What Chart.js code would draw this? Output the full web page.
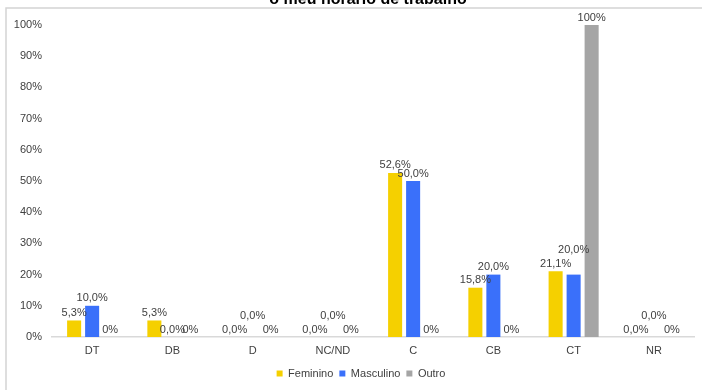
<!DOCTYPE html>
<html lang="pt">
<head>
    <meta charset="UTF-8">
    <title>o meu horário de trabalho</title>
    <style>
        body { margin: 0; background: #fff; }
        canvas { display: block; }
    </style>
    <script src="https://cdn.jsdelivr.net/npm/chart.js"></script>
</head>
<body>
    <canvas id="grafico" width="702" height="390"></canvas>
    <script>
        // dados
        const categorias = ['DT', 'DB', 'D', 'NC/ND', 'C', 'CB', 'CT', 'NR'];
        const feminino = [5.3, 5.3, 0, 0, 52.6, 15.8, 21.1, 0];
        const masculino = [10.0, 0, 0, 0, 50.0, 20.0, 20.0, 0];
        const outro = [0, 0, 0, 0, 0, 0, 100, 0];
        const ticksY = [0, 10, 20, 30, 40, 50, 60, 70, 80, 90, 100];
        const titulo = 'o meu horário de trabalho';

        const fonte = '"Liberation Sans", Arial, sans-serif';

        // moldura e título (o título está cortado no topo)
        const molduraTitulo = {
            id: 'molduraTitulo',
            beforeDraw(chart) {
                // legenda um pouco à direita, como no original
                if (!chart.legend._movida) {
                    chart.legend.left += 8;
                    chart.legend.right += 8;
                    chart.legend._movida = true;
                }
            },
            afterDraw(chart) {
                const ctx = chart.ctx;
                ctx.save();
                ctx.strokeStyle = '#d4d4d4';
                ctx.lineWidth = 1.5;
                ctx.beginPath();
                ctx.moveTo(6, 390);
                ctx.lineTo(6, 8);
                ctx.lineTo(702, 8);
                ctx.stroke();
                ctx.fillStyle = '#000';
                ctx.font = 'bold 16px ' + fonte;
                ctx.textAlign = 'center';
                ctx.textBaseline = 'alphabetic';
                ctx.fillText(titulo, 368, 4);
                ctx.restore();
            }
        };

        // rótulos de dados por cima das barras; sobe o rótulo se tapar outro
        const rotulos = {
            id: 'rotulos',
            afterDatasetsDraw(chart) {
                const ctx = chart.ctx;
                ctx.save();
                ctx.font = '11px ' + fonte;
                ctx.fillStyle = '#404040';
                ctx.textAlign = 'center';
                ctx.textBaseline = 'bottom';
                const alt = 12;
                categorias.forEach((c, j) => {
                    const postos = [];
                    chart.data.datasets.forEach((ds, i) => {
                        const bar = chart.getDatasetMeta(i).data[j];
                        const v = ds.data[j];
                        const txt = i === 2 ? v.toFixed(0) + '%' : v.toFixed(1).replace('.', ',') + '%';
                        const w = ctx.measureText(txt).width;
                        const x0 = bar.x - w / 2, x1 = bar.x + w / 2;
                        let y = bar.y - 2;
                        postos.forEach(p => {
                            const sobreX = Math.min(x1, p.x1) - Math.max(x0, p.x0);
                            const sobreY = alt - Math.abs(y - p.y);
                            if (sobreX > 4 && sobreY > 6) y = p.y - alt - 2;
                        });
                        postos.push({ x0, x1, y });
                        ctx.fillText(txt, bar.x, y);
                    });
                });
                ctx.restore();
            }
        };

        new Chart(document.getElementById('grafico'), {
            type: 'bar',
            data: {
                labels: categorias,
                datasets: [
                    { label: 'Feminino', data: feminino, backgroundColor: '#F5D000' },
                    { label: 'Masculino', data: masculino, backgroundColor: '#3A70FA' },
                    { label: 'Outro', data: outro, backgroundColor: '#A5A5A5' }
                ]
            },
            options: {
                responsive: false,
                animation: false,
                layout: { padding: { left: 12, right: 8, top: 25, bottom: 1 } },
                datasets: {
                    bar: { categoryPercentage: 0.673, barPercentage: 0.78 }
                },
                scales: {
                    x: {
                        afterFit(s) { s.height = 25; },
                        grid: { display: false, drawTicks: false },
                        border: { color: '#d9d9d9', width: 1.5 },
                        ticks: { color: '#404040', font: { family: fonte, size: 11 }, padding: 7 }
                    },
                    y: {
                        min: 0,
                        max: 100,
                        afterFit(s) { s.width = 40; },
                        afterBuildTicks(s) { s.ticks = ticksY.map(v => ({ value: v })); },
                        grid: { display: false, drawTicks: false },
                        border: { display: false },
                        ticks: {
                            color: '#404040',
                            font: { family: fonte, size: 11 },
                            padding: 10,
                            callback: v => v + '%'
                        }
                    }
                },
                plugins: {
                    legend: {
                        position: 'bottom',
                        labels: {
                            boxWidth: 6,
                            boxHeight: 6,
                            padding: 6,
                            color: '#404040',
                            font: { family: fonte, size: 11 }
                        }
                    },
                    tooltip: { enabled: false }
                }
            },
            plugins: [molduraTitulo, rotulos]
        });
    </script>
</body>
</html>
